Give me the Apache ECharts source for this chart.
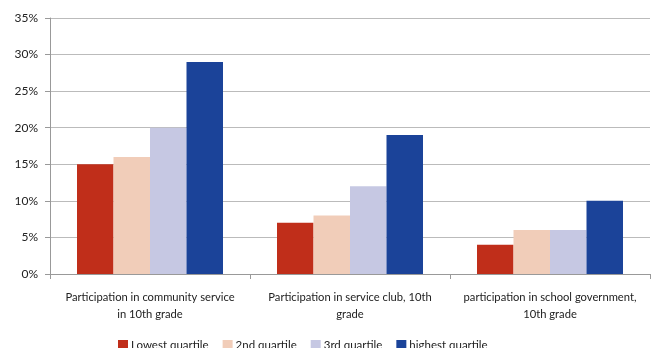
<!DOCTYPE html>
<html><head><meta charset="utf-8">
<script src="https://cdn.jsdelivr.net/npm/echarts@6/dist/echarts.min.js"></script>
<style>html,body{margin:0;padding:0;background:#fff}#c{width:656px;height:348px}</style>
</head><body><div id="c"></div>
<script>
const categories = ["Participation in community service\nin 10th grade", "Participation in service club, 10th\ngrade", "participation in school government,\n10th grade"];
const seriesNames = ["Lowest quartile", "2nd quartile", "3rd quartile", "highest quartile"];
const lowest = [15, 7, 4];
const second = [16, 8, 6];
const third = [20, 12, 6];
const highest = [29, 19, 10];
const colors = ["#C02E1A", "#F1CDB9", "#C6C8E3", "#1B4399"];
const values = [lowest, second, third, highest];
const chart = echarts.init(document.getElementById('c'));
const font = "Lato, 'Open Sans', sans-serif";
chart.setOption({
  animation: false,
  textStyle: {fontFamily: font},
  grid: {left: 50, right: 6, top: 18, bottom: 74, containLabel: false},
  legend: {
    left: 113, top: 334, itemWidth: 10, itemHeight: 10, itemGap: 14, icon: 'rect',
    textStyle: {fontSize: 11.5, color: '#222', fontFamily: font, padding: [0, 0, 0, -2]},
    data: seriesNames
  },
  xAxis: {
    type: 'category', data: categories,
    axisLine: {lineStyle: {color: '#999'}},
    axisTick: {show: true, alignWithLabel: false, length: 5, lineStyle: {color: '#999'}},
    axisLabel: {fontSize: 11.2, color: '#222', lineHeight: 17, margin: 15, interval: 0}
  },
  yAxis: {
    type: 'value', min: 0, max: 35, interval: 5,
    axisLine: {show: true, lineStyle: {color: '#999'}},
    axisTick: {show: true, length: 5, lineStyle: {color: '#999'}},
    splitLine: {lineStyle: {color: '#bbb'}},
    axisLabel: {formatter: '{value}%', fontSize: 12, color: '#222', margin: 12}
  },
  series: seriesNames.map((n, i) => ({
    name: n, type: 'bar', data: values[i], barGap: '0%', barCategoryGap: '27%',
    itemStyle: {color: colors[i]}
  }))
});
</script></body></html>
